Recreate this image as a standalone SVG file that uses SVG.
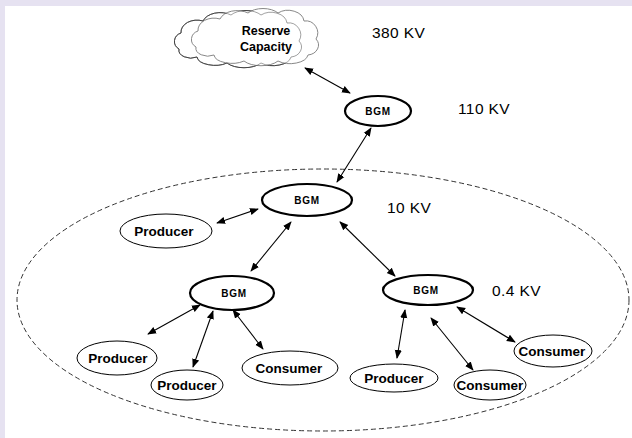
<svg xmlns="http://www.w3.org/2000/svg" width="632" height="438" viewBox="0 0 632 438">
<defs>
<marker id="ah" viewBox="0 0 10 10" refX="9" refY="5" markerWidth="9" markerHeight="9" markerUnits="userSpaceOnUse" orient="auto-start-reverse">
<path d="M0,1 L10,5 L0,9 z" fill="#000"/>
</marker>
<path id="cloudshape" d="M188 48 a10 9 0 0 1 2 -16 a16 12 0 0 1 22 -12 a18 12 0 0 1 28 -6 a18 10 0 0 1 30 0 a16 12 0 0 1 26 8 a12 12 0 0 1 12 18 a12 10 0 0 1 -8 16 a18 10 0 0 1 -30 6 a20 10 0 0 1 -34 0 a18 9 0 0 1 -30 -6 a12 8 0 0 1 -18 -8 z"/>
<style>
.bgm{fill:#fff;stroke:#000;stroke-width:2.2}
.nd{fill:#fff;stroke:#000;stroke-width:1}
.bt{font-family:"Liberation Sans",Arial,sans-serif;font-weight:bold;font-size:10px;letter-spacing:0.8px;text-anchor:middle;fill:#000}
.lt{font-family:"Liberation Sans",Arial,sans-serif;font-weight:bold;font-size:13.5px;text-anchor:middle;fill:#000}
.kv{font-family:"Liberation Sans",Arial,sans-serif;font-size:15.5px;letter-spacing:0.4px;fill:#000}
.cl{fill:#fff;stroke-width:1}
.cn line{stroke:#000;stroke-width:1.1;marker-start:url(#ah);marker-end:url(#ah)}
</style>
</defs>
<rect width="632" height="438" fill="#e6e2f1"/>
<rect x="5" y="6" width="627" height="432" fill="#fff"/>
<ellipse id="region" cx="323" cy="300" rx="306" ry="131" fill="none" stroke="#333" stroke-width="1" stroke-dasharray="5,3"/>
<g id="cloud">
<use href="#cloudshape" class="cl" transform="translate(-9,1)" stroke="#444"/>
<use href="#cloudshape" class="cl" transform="translate(8,-1)" stroke="#888"/>
<use href="#cloudshape" transform="translate(-9,1)" fill="none" stroke="#444" stroke-width="1" stroke-opacity="0.5"/>
<text class="lt" x="266" y="35" style="font-size:12.5px">Reserve</text>
<text class="lt" x="266" y="51" style="font-size:12.5px">Capacity</text>
</g>
<text class="kv" x="372" y="38">380 KV</text>
<text class="kv" x="458" y="114">110 KV</text>
<text class="kv" x="387" y="213">10 KV</text>
<text class="kv" x="492" y="296">0.4 KV</text>
<g class="cn" id="connectors">
<line x1="305" y1="68" x2="350" y2="93"/>
<line x1="371" y1="128" x2="337" y2="182"/>
<line x1="217" y1="223" x2="258" y2="209"/>
<line x1="291" y1="222" x2="251" y2="271"/>
<line x1="340" y1="222" x2="395" y2="276"/>
<line x1="200" y1="305" x2="148" y2="334"/>
<line x1="213" y1="311" x2="193" y2="367"/>
<line x1="233" y1="310" x2="263" y2="349"/>
<line x1="405" y1="310" x2="397" y2="358"/>
<line x1="431" y1="318" x2="473" y2="370"/>
<line x1="457" y1="307" x2="515" y2="342"/>
</g>
<g id="bgm1"><ellipse class="bgm" cx="378" cy="111" rx="33" ry="15"/><text class="bt" x="378" y="115">BGM</text></g>
<g id="bgm2"><ellipse class="bgm" cx="307" cy="200" rx="45" ry="16"/><text class="bt" x="307" y="204">BGM</text></g>
<g id="bgm3"><ellipse class="bgm" cx="232" cy="293" rx="42" ry="17"/><text class="bt" x="234" y="297">BGM</text></g>
<g id="bgm4"><ellipse class="bgm" cx="428" cy="290" rx="45" ry="15"/><text class="bt" x="426" y="294">BGM</text></g>
<g id="producer0"><ellipse class="nd" cx="166" cy="231" rx="46" ry="17"/><text class="lt" x="164" y="236">Producer</text></g>
<g id="producer1"><ellipse class="nd" cx="117" cy="358" rx="40" ry="17"/><text class="lt" x="118" y="363">Producer</text></g>
<g id="producer2"><ellipse class="nd" cx="187" cy="385" rx="36" ry="15"/><text class="lt" x="187" y="390">Producer</text></g>
<g id="consumer1"><ellipse class="nd" cx="290" cy="368" rx="48" ry="17"/><text class="lt" x="289" y="373">Consumer</text></g>
<g id="producer3"><ellipse class="nd" cx="394" cy="378" rx="44" ry="14"/><text class="lt" x="394" y="383">Producer</text></g>
<g id="consumer2"><ellipse class="nd" cx="490" cy="385" rx="36" ry="15"/><text class="lt" x="490" y="390">Consumer</text></g>
<g id="consumer3"><ellipse class="nd" cx="553" cy="351" rx="39" ry="16"/><text class="lt" x="552" y="356">Consumer</text></g>
</svg>
